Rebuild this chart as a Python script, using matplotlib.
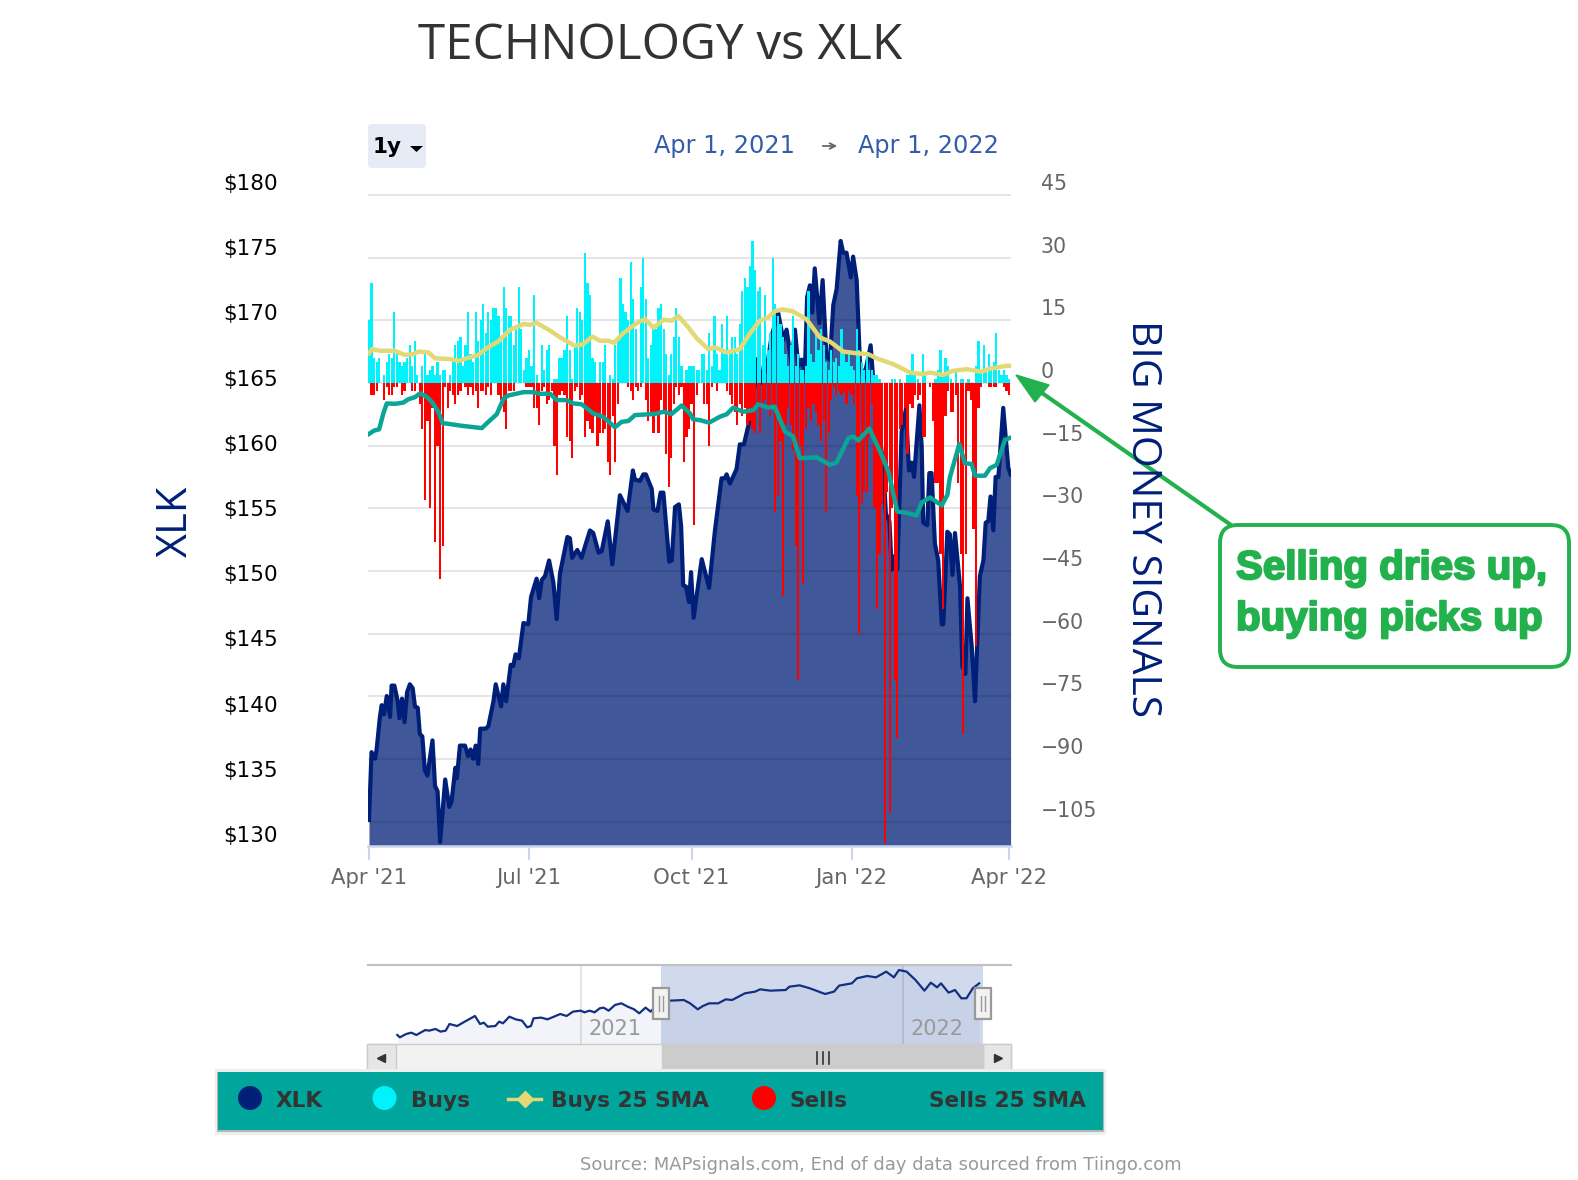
import matplotlib
matplotlib.use("Agg")
import matplotlib.pyplot as plt
import matplotlib.patches as mpatches
import matplotlib.patheffects as pe
import matplotlib.transforms as mtransforms
import numpy as np

W, H = 1578, 1180
NAVY = "#001f78"
GREEN = "#23b14d"

# --- data ---
buys = [
    15, 24, 6, 5, 6, 0, 2, 5, 7, 6,
    17, 7, 5, 4, 5, 6, 9, 4, 10, 2,
    0, 4, 7, 2, 3, 4, 2, 5, 2, 3,
    3, 0, 2, 5, 9, 10, 11, 4, 9, 17,
    7, 5, 17, 10, 15, 19, 12, 17, 15, 18,
    18, 16, 10, 23, 18, 16, 16, 9, 13, 23,
    13, 3, 6, 8, 4, 21, 2, 0, 9, 3,
    8, 9, 0, 1, 1, 6, 6, 8, 16, 8,
    1, 9, 18, 17, 15, 31, 24, 21, 6, 5,
    0, 5, 5, 9, 0, 2, 1, 9, 10, 25,
    19, 17, 15, 29, 20, 13, 0, 23, 30, 20,
    6, 9, 13, 13, 18, 19, 13, 7, 2, 7,
    11, 18, 11, 4, 0, 3, 4, 4, 4, 3,
    3, 7, 7, 3, 12, 4, 16, 7, 3, 14,
    7, 16, 7, 11, 11, 7, 14, 22, 25, 23,
    28, 34, 27, 22, 23, 9, 21, 8, 12, 30,
    19, 16, 14, 11, 7, 4, 9, 16, 4, 7,
    3, 3, 4, 22, 7, 5, 12, 8, 13, 9,
    5, 3, 8, 5, 6, 4, 13, 7, 5, 8,
    4, 3, 13, 8, 5, 3, 7, 3, 3, 2,
    2, 1, 0, 0, 0, 0, 1, 1, 0, 1,
    0, 0, 2, 3, 7, 2, 1, 0, 7, 2,
    0, 0, 0, 1, 3, 8, 2, 6, 4, 1,
    0, 3, 0, 1, 1, 0, 1, 0, 0, 4,
    10, 3, 9, 3, 7, 3, 5, 12, 3, 2,
    3, 2, 1,
]
sells = [
    0, -3, -3, -2, 0, 0, -4, -1, -3, -3,
    -1, -1, 0, -3, -2, 0, 0, -2, -2, 0,
    -5, -11, -28, -9, -30, -6, -38, -15, -47, -39,
    -1, -6, -2, -3, -5, -3, -2, 0, -1, -3,
    -1, -3, -2, -6, -2, -2, -3, -1, -3, 0,
    0, -3, -4, -7, -11, -2, -2, -2, 0, 0,
    0, 0, -1, -1, -1, -6, -6, -10, -2, -1,
    -5, -4, -2, -15, -22, -3, -2, -3, -13, -14,
    -18, -2, -1, -4, -3, -13, -9, -11, -12, -8,
    -15, -12, -12, -11, -19, -22, -8, -19, -5, 0,
    0, 0, -1, -2, -4, -1, -2, -1, 0, -4,
    -9, -7, -12, -7, -12, -4, -7, -17, -25, -18,
    -5, -1, -3, -1, -19, -13, -11, -5, -34, -3,
    0, 0, -5, -5, -15, -1, 0, -2, 0, 0,
    0, -2, -3, -5, -7, -10, -5, -8, -6, -10,
    -9, -11, -12, -6, -12, -5, -4, -6, -8, -5,
    -31, -27, -14, -51, -10, -6, -10, -16, -39, -71,
    -15, -48, -11, -6, -9, -5, -7, -10, -14, -9,
    -31, -12, -4, -1, -3, -2, -3, -2, -5, -2,
    -3, -5, -27, -60, -29, -26, -26, -13, -5, -30,
    -54, -41, -29, -110, -26, -103, -30, -71, -85, -11,
    -10, -6, -17, -5, -6, -3, -4, -3, -13, -13,
    0, -1, -9, -24, -24, -41, -54, -8, -2, -7,
    -7, -3, -24, -41, -84, -41, -2, -4, -35, -63,
    -6, -1, 0, 0, -1, -1, -1, -1, 0, 0,
    -1, -2, -3,
]

xlk_days = [
    0, 1, 2.4, 3, 4.3, 5, 5.9, 7, 8.3, 8.9, 10, 11.2, 12, 13, 14, 15, 16.1, 17.2, 18.1, 19.2,
    20, 21, 22, 23, 25, 26, 27, 28, 30, 31.6, 32.5, 34, 34.6, 35.8, 37.8, 39, 40, 41, 42, 43,
    43.8, 46, 47, 49, 49.9, 52, 52.9, 54, 55.8, 56.8, 57.7, 59, 60.8, 62.7, 63.8, 66, 67, 68,
    69.3, 70.9, 72.6, 73.9, 75.2, 78.1, 79.1, 80, 82, 83.7, 85.4, 87, 88.3, 90.4, 91.6, 94,
    95.8, 98.8, 101.8, 103.9, 104.7, 106.7, 108, 109, 111.3, 112, 113.6, 114.8, 115.9, 118.2,
    119.2, 120.5, 122, 122.9, 123.7, 124.8, 126, 126.8, 127.8, 131, 133.9, 136.2, 138.8, 140.1,
    140.8, 142.1, 144.7, 146, 147.6, 149.3, 150.6, 153.2, 154.6, 157.2, 158.5, 161.1, 163.1,
    164.4, 166.4, 167.7, 169, 170.3, 171.6, 172.5, 173.6, 174.5, 175.5, 177.3, 178.6, 180.1,
    181.5, 182.8, 184.1, 185.7, 186.7, 188, 189.7, 190.6, 192, 193.3, 194.8, 197.5, 198.5,
    202.5, 203.5, 204.9, 205.8, 206.4, 208, 209.7, 211.4, 212.6, 213.6, 214.6, 216.7, 217.6,
    218.2, 219.8, 220.6, 221.5, 222.8, 224.1, 225.5, 226.1, 227.7, 228.7, 229.7, 230.7, 232.7,
    233.6, 234.8, 235.6, 237.3, 238.6, 240.5, 241.9, 242.8, 243.8, 244.7, 245.8, 246.7, 247.8,
    249.7, 251.7, 252.6,
]
xlk_close = [
    132.0, 137.2, 136.7, 137.4, 139.9, 140.8, 140.1, 141.5, 139.9, 142.3, 142.3, 141.2, 139.8,
    141.3, 139.5, 141.8, 142.4, 142.1, 140.7, 140.6,
    138.6, 138.4, 135.8, 135.4, 138.1, 134.6, 134.2, 130.3, 135.1, 133.0, 133.4, 136.0, 135.2,
    137.7, 137.7, 136.9, 137.4, 136.7, 137.7, 136.3,
    139.0, 139.0, 139.2, 141.1, 142.4, 140.7, 142.4, 141.1, 143.9, 143.8, 144.7, 144.4, 147.1,
    147.0, 149.1, 150.5, 149.0, 150.4,
    150.7, 151.9, 150.2, 147.4, 150.9, 153.7, 153.6, 152.1, 152.7, 152.1, 153.2, 154.2, 154.0,
    152.5, 152.6, 154.9,
    151.6, 156.9, 155.7, 158.8, 158.1, 158.0, 158.5, 158.5, 157.4, 155.8, 155.7, 157.1, 157.1,
    151.8,
    151.9, 156.0, 156.2, 154.5, 150.0, 149.9, 148.7, 151.0, 147.5, 152.0, 149.8, 154.2, 158.2,
    158.2,
    158.5, 157.8, 158.9, 160.8, 160.8, 162.2, 163.5, 167.4, 165.5, 167.4, 169.1, 170.9, 168.8,
    169.6, 167.0, 169.6, 166.8, 167.3, 166.3, 172.1, 173.0, 170.9, 174.3, 170.1, 173.4, 167.5,
    167.3, 171.5, 172.7, 176.4, 175.5, 175.5, 173.6, 175.2, 173.4, 167.0, 165.8, 168.4, 165.8,
    159.1, 155.5, 154.9, 151.2, 152.2, 151.2, 161.8, 163.5, 158.8, 159.4, 158.3, 163.8, 160.6,
    154.8, 154.6, 158.6, 158.6, 153.2, 151.9, 147.0, 147.0, 154.1, 153.9, 150.8, 154.0, 149.9,
    143.8, 143.2, 149.0, 145.3, 141.1, 150.7, 151.9, 154.8, 154.9, 156.8, 154.2, 158.3, 158.3,
    163.6, 159.0, 158.5,
]

buys_sma_days = [
    0, 1.2, 4.3, 10, 14.2, 17.5, 19.4, 23.4, 26, 31.9, 35.2, 38.5, 43, 46.3, 51, 55.5, 60.8, 63.4,
    66, 71.9, 75.2, 81, 84.4, 87.9, 90.9, 94.2, 96.5, 100.1, 105.4, 108.7, 112, 115.9, 119.2,
    121.8, 125.7, 129, 133.6, 136.2, 140.8, 146, 150, 153.9, 157.2, 159.8, 163.1, 167, 172.3,
    177.5, 181.5, 186.7, 192, 196.5, 199.8, 206.4, 213, 218.2, 220.8, 226, 230, 235.3, 241.2,
    244.4, 251, 252.3,
]
buys_sma = [
    7.1, 8.1, 7.7, 7.7, 6.7, 6.9, 7.5, 7.3, 5.9, 5.7, 5.3, 5.9, 6.7, 8.3, 10.0, 12.7, 14.1, 13.9,
    14.4, 12.3, 10.9, 8.9, 9.3, 11.1, 10.1, 10.1, 9.6, 11.9, 14.3, 15.3, 13.2, 15.1, 14.9,
    16.0, 13.3, 10.7, 8.1, 8.5, 7.3, 8.1, 11.9, 14.9, 15.7, 17.2, 17.6, 17.1, 15.2,
    10.9, 9.9, 7.5, 7.1, 6.9, 5.9, 4.5, 2.5, 2.1, 2.5, 1.9, 2.9, 3.3, 2.7,
    3.4, 4.1, 4.1,
]
sells_sma_days = [
    0, 2, 4, 5.6, 7, 10.2, 13.5, 15.5, 18.1, 20.1, 22.7, 24.7, 27.3, 29, 37.1, 44.4, 47, 50.3, 53,
    54.9, 60.8, 64.7, 67.3, 71.3, 73.9, 77.8, 80.4, 83.7, 88.3, 92.2, 96.8, 99.5, 102.1, 104.7,
    112.6, 115.9, 119.2, 123.1, 126.4, 127.6, 130.3, 133.9, 138.1, 140.8, 143.4, 147.3, 151.3,
    153.2, 157.2, 159.8, 163.7, 167, 169.6, 176.2, 181.5, 184.1, 188.7, 190.6, 192.6, 197,
    201.8, 204.5, 208, 211, 215.6, 217.6, 220.9, 225.5, 227.7, 228.7, 232.4, 234.6, 237.3,
    238.6, 242.5, 244.5, 247.1, 250.4, 252.6,
]
sells_sma = [
    -12.2, -11.4, -11.1, -7.4, -4.9, -5.0, -4.7, -3.9, -3.4, -2.5, -3.3, -4.5, -6.9, -9.6, -10.3,
    -10.8, -9.3, -7.5, -3.7, -3.0, -2.2, -2.2, -2.6, -2.6, -4.1, -4.1, -4.9, -5.1, -7.3, -8.1,
    -10.6, -9.3, -9.1, -7.7, -7.4, -6.9, -7.4, -5.4, -7.3, -8.7, -8.9, -9.5, -8.1, -7.5, -5.9,
    -6.9, -6.5, -5.1, -5.9, -5.7, -11.6, -12.8, -18.0, -17.8, -19.6, -19.0, -13.2, -12.8, -13.8,
    -10.9, -17.2, -21.2, -30.8, -31.0, -31.7, -28.6, -27.4, -29.3, -26.8, -22.6, -14.6, -19.2,
    -19.4, -22.2, -22.2, -20.4, -19.6, -13.6, -13.1,
]

nav_days = [
    -207, -205, -200, -196, -192, -185, -182, -177, -173, -169, -166, -160, -154, -146, -142, -139,
    -136, -130, -127, -124, -119, -114, -109, -105, -102, -100, -94, -89, -79, -74, -69, -63, -60,
    -56, -52, -48, -45, -41, -36, -31, -26, -21, -17, -12, -8, 0, 7, 18, 23, 29, 33, 38, 45, 51, 56,
    66, 74, 78, 86, 98, 101, 109, 117, 122, 129, 136, 140, 150, 154, 162, 169, 177, 183, 187, 193,
    200, 207, 212, 217, 220, 226, 231, 236, 240, 245, 250,
]
nav_close = [
    88.3, 85.1, 89.6, 91.4, 88.3, 95.0, 94.1, 96.4, 92.8, 94.1, 103.1, 100.4, 106.3, 113.9, 103.1,
    104.9, 99.5, 100.4, 106.3, 104.0, 113.0, 109.4, 107.6, 98.6, 100.4, 110.8, 111.7, 109.4, 116.6,
    113.9, 119.8, 121.1, 118.9, 121.1, 118.9, 124.3, 125.2, 121.1, 128.8, 131.0, 126.5, 122.9,
    117.5, 125.2, 119.8, 135.5, 134.6, 135.5, 131.0, 122.9, 127.4, 131.0, 131.0, 136.4, 135.5,
    144.5, 146.8, 149.9, 148.1, 149.0, 153.5, 155.3, 151.3, 148.1, 143.6, 146.8, 154.9, 158.0,
    164.8, 167.9, 166.1, 173.8, 166.1, 176.0, 173.8, 162.5, 148.1, 158.9, 152.6, 158.0, 145.4,
    149.0, 137.8, 137.8, 151.3, 158.0,
]

price_ticks = [130, 135, 140, 145, 150, 155, 160, 165, 170, 175, 180]
signal_ticks = [45, 30, 15, 0, -15, -30, -45, -60, -75, -90, -105]
xtick_days = [0, 63, 127, 190, 252]
xtick_labels = ["Apr '21", "Jul '21", "Oct '21", "Jan '22", "Apr '22"]
nav_year_days = [-63, 190]
nav_year_labels = ["2021", "2022"]


def px_axes(fig, x0, y0, x1, y1, **kwargs):
    """Axes placed by pixel box, y counted from the top of the image."""
    return fig.add_axes([x0 / W, 1 - y1 / H, (x1 - x0) / W, (y1 - y0) / H], **kwargs)


fig = plt.figure(figsize=(W / 100, H / 100), dpi=100, facecolor="white")

# %% main chart: price on the left axis, signals on the right axis
ax = px_axes(fig, 368, 193, 1011, 846)
ax.fill_between(xlk_days, xlk_close, 130, color=NAVY, alpha=0.75, lw=0)
ax.plot(xlk_days, xlk_close, color=NAVY, lw=3, solid_joinstyle="round")
ax.set_xlim(-0.39, 252.76)
ax.set_ylim(130, 180.08)

ax.set_xticks(xtick_days)
ax.set_xticklabels(xtick_labels, color="#666666", fontsize=15.3)
ax.tick_params(axis="x", length=10, width=1.5, color="#ccd6eb", pad=5.5)
ax.set_yticks(price_ticks)
ax.set_yticklabels([f"${p}" for p in price_ticks], color="black", fontsize=15.5)
ax.tick_params(axis="y", length=0, pad=65)
for side in ["top", "left", "right"]:
    ax.spines[side].set_visible(False)
ax.spines["bottom"].set_color("#ccd6eb")
ax.spines["bottom"].set_linewidth(1.8)

ax2 = ax.twinx()
days = np.arange(len(buys))
ax2.set_axisbelow(True)
ax2.grid(axis="y", color="black", alpha=0.1, lw=1.5)
ax2.bar(days, buys, width=0.86, color="#00f2fa", lw=0, zorder=2)
ax2.bar(days, sells, width=0.86, color="#ff0000", lw=0, zorder=2)
ax2.plot(sells_sma_days, sells_sma, color="#0aa596", lw=3.2, zorder=3)
ax2.plot(buys_sma_days, buys_sma, color="#e2d875", lw=3.2, zorder=3)
ax2.set_ylim(-110.8, 45.45)
ax2.set_yticks(signal_ticks)
ax2.set_yticklabels([str(s).replace("-", "\u2212") for s in signal_ticks], color="#666666", fontsize=14.8)
ax2.tick_params(axis="y", length=0, pad=21.5)
for spine in ax2.spines.values():
    spine.set_visible(False)

# tick labels sit above their values, as the original does
up = mtransforms.ScaledTranslation(0, 12 / 100, fig.dpi_scale_trans)
up_right = mtransforms.ScaledTranslation(0, 13 / 100, fig.dpi_scale_trans)
for label in ax.get_yticklabels():
    label.set_transform(label.get_transform() + up)
for label in ax2.get_yticklabels():
    label.set_transform(label.get_transform() + up_right)

# %% navigator strip
nav = px_axes(fig, 368, 965, 1011, 1044)
nav.axvspan(-230, 275, color="white", lw=0)
nav.fill_between(nav_days, nav_close, 76, color="#f2f4f9", lw=0)
nav.axvspan(0, 253, color="#6685c2", alpha=0.3, lw=0)
nav.plot(nav_days, nav_close, color="#12307f", lw=1.6)
nav.set_xlim(-230, 275)
nav.set_ylim(76.1, 182.75)
for d, year in zip(nav_year_days, nav_year_labels):
    nav.axvline(d, color="#000000", alpha=0.1, lw=1.5)
    nav.text(d + 6, 97, year, color="#999999", fontsize=15, ha="left", va="center")
nav.set_xticks([])
nav.set_yticks([])
for side in ["left", "right", "bottom"]:
    nav.spines[side].set_visible(False)
nav.spines["top"].set_color("#c0c0c0")
nav.spines["top"].set_linewidth(1.5)

# %% page furniture drawn in image pixels
ov = fig.add_axes([0, 0, 1, 1], zorder=10)
ov.set_xlim(0, W)
ov.set_ylim(H, 0)
ov.axis("off")
ov.patch.set_visible(False)

ov.text(660, 46, "TECHNOLOGY vs XLK", color="#333333", fontsize=35.6, family="Open Sans", ha="center", va="center")
ov.text(176, 521, "XLK", color=NAVY, fontsize=30, family="Open Sans", rotation=90, ha="center", va="center")
ov.text(1142, 519, "BIG MONEY SIGNALS", color=NAVY, fontsize=29.3, family="Open Sans", rotation=270, ha="center", va="center")

# range selector
ov.add_patch(mpatches.FancyBboxPatch((371, 127), 52, 38, boxstyle="round,pad=3,rounding_size=4", fc="#e6ebf5", ec="none"))
ov.text(373, 147, "1y", color="black", fontsize=15.5, fontweight="bold", ha="left", va="center")
ov.add_patch(mpatches.Polygon([(410, 146), (423, 146), (416.5, 152)], fc="black", ec="none"))
ov.text(654, 146, "Apr 1, 2021", color="#335cad", fontsize=17.3, ha="left", va="center")
ov.annotate("", xy=(840, 146), xytext=(820, 146), arrowprops=dict(arrowstyle="->", color="#666666", lw=1.3))
ov.text(858, 146, "Apr 1, 2022", color="#335cad", fontsize=17.3, ha="left", va="center")

# scrollbar under the navigator
ov.add_patch(mpatches.Rectangle((367, 1044), 644, 26, fc="#f2f2f2", ec="#cccccc", lw=1))
ov.add_patch(mpatches.Rectangle((367, 1044), 29, 26, fc="#e6e6e6", ec="#cccccc", lw=1))
ov.add_patch(mpatches.Rectangle((983, 1044), 28, 26, fc="#e6e6e6", ec="#cccccc", lw=1))
ov.add_patch(mpatches.Rectangle((662, 1044), 321, 26, fc="#cccccc", ec="#cccccc", lw=1))
ov.plot([381], [1058], marker="<", ms=6, color="#333333")
ov.plot([998], [1058], marker=">", ms=6, color="#333333")
for gx in [817, 823, 829]:
    ov.plot([gx, gx], [1052, 1064], color="#333333", lw=1.2)

# navigator handles
for hx in [661, 983]:
    ov.add_patch(mpatches.Rectangle((hx - 8, 988), 16, 31, fc="#f2f2f2", ec="#999999", lw=1.6))
    for gx in [hx - 2, hx + 2]:
        ov.plot([gx, gx], [996, 1011], color="#999999", lw=1)

# legend bar
ov.add_patch(mpatches.Rectangle((215, 1069), 891, 66, fc="#eeeeee", ec="none"))
ov.add_patch(mpatches.Rectangle((217, 1072), 887, 60, fc="#b5b5b5", ec="none"))
ov.add_patch(mpatches.Rectangle((218, 1072), 885, 58, fc="#00a59b", ec="none"))
ov.add_patch(mpatches.Circle((250, 1098), 12, fc=NAVY, ec="none"))
ov.add_patch(mpatches.Circle((384.5, 1098), 12, fc="#00f2fa", ec="none"))
ov.add_patch(mpatches.Circle((764, 1098), 12, fc="#ff0000", ec="none"))
ov.plot([508, 541], [1099, 1099], color="#e2d875", lw=2.5)
ov.plot([525], [1099], marker="D", ms=8, color="#e2d875")
for tx, name in [(276, "XLK"), (411, "Buys"), (551, "Buys 25 SMA"), (790, "Sells"), (929, "Sells 25 SMA")]:
    ov.text(tx, 1101, name, color="#333333", fontsize=15.6, fontweight="bold", ha="left", va="center")

ov.text(580, 1165, "Source: MAPsignals.com, End of day data sourced from Tiingo.com",
        color="#999999", fontsize=13, ha="left", va="center")

# annotation box and arrow
ov.add_patch(mpatches.FancyBboxPatch((1240, 545), 309, 102, boxstyle="round,pad=20,rounding_size=18", fc="white", ec=GREEN, lw=2.8))
ov.plot([1231, 1042], [525, 393], color=GREEN, lw=3, solid_capstyle="butt")
ov.add_patch(mpatches.Polygon([(1016, 375), (1049, 385), (1035, 402)], fc=GREEN, ec=GREEN, lw=1))
bold_stroke = [pe.withStroke(linewidth=1.5, foreground=GREEN)]
for ty, line in [(568, "Selling dries up,"), (619, "buying picks up")]:
    ov.text(1236, ty, line, color=GREEN, fontsize=29, family="Liberation Sans", fontweight="bold",
            ha="left", va="center", path_effects=bold_stroke)

fig.savefig("out.png", dpi=100)
